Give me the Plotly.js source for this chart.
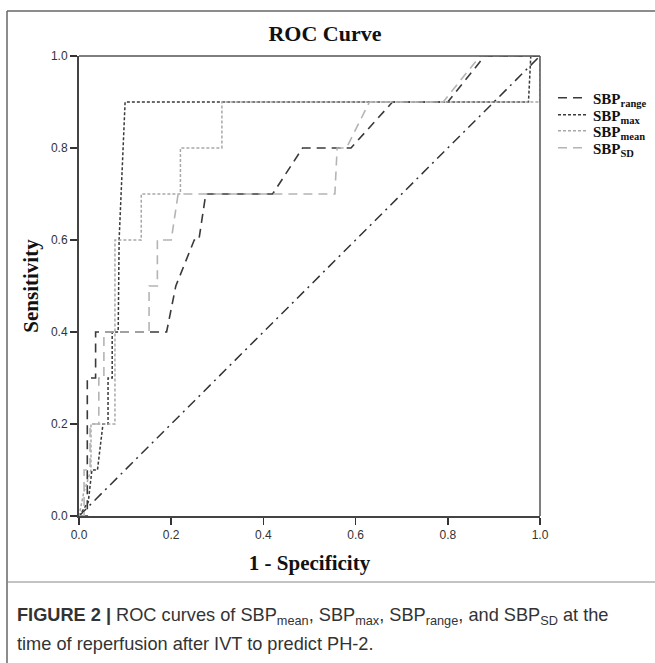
<!DOCTYPE html>
<html>
<head>
<meta charset="utf-8">
<script src="https://cdn.plot.ly/plotly-3.0.1.min.js"></script>
<style>html,body{margin:0;padding:0;background:#fff;}#chart{width:655px;height:663px;}</style>
</head>
<body>
<div id="chart"></div>
<script>
// ---- data ----
const seriesNames = ["SBP<sub>range</sub>", "SBP<sub>max</sub>", "SBP<sub>mean</sub>", "SBP<sub>SD</sub>"];

const rangeX = [0, 0.018, 0.018, 0.036, 0.036, 0.19, 0.21, 0.25, 0.26, 0.275, 0.42, 0.485, 0.59, 0.68, 0.80, 0.88, 0.98, 1.0];
const rangeY = [0, 0, 0.3, 0.3, 0.4, 0.4, 0.5, 0.6, 0.6, 0.7, 0.7, 0.8, 0.8, 0.9, 0.9, 1.0, 1.0, 1.0];

const maxX = [0, 0.02, 0.028, 0.04, 0.052, 0.063, 0.063, 0.072, 0.072, 0.085, 0.087, 0.1, 0.975, 0.98, 1.0];
const maxY = [0, 0.03, 0.1, 0.1, 0.2, 0.2, 0.3, 0.3, 0.4, 0.4, 0.6, 0.9, 0.9, 1.0, 1.0];

const meanX = [0, 0.01, 0.026, 0.026, 0.078, 0.078, 0.135, 0.135, 0.22, 0.22, 0.31, 0.31, 1.0, 1.0];
const meanY = [0, 0.05, 0.1, 0.2, 0.2, 0.6, 0.6, 0.7, 0.7, 0.8, 0.8, 0.9, 0.9, 1.0];

const sdX = [0, 0.011, 0.011, 0.024, 0.024, 0.043, 0.043, 0.054, 0.054, 0.152, 0.152, 0.17, 0.17, 0.2, 0.215, 0.555, 0.56, 0.58, 0.63, 0.79, 0.87, 1.0];
const sdY = [0, 0, 0.1, 0.1, 0.2, 0.2, 0.3, 0.3, 0.4, 0.4, 0.5, 0.5, 0.6, 0.6, 0.7, 0.7, 0.8, 0.8, 0.9, 0.9, 1.0, 1.0];

const refX = [0, 1];
const refY = [0, 1];

const tickVals = [0, 0.2, 0.4, 0.6, 0.8, 1.0];
const tickText = ["0.0", "0.2", "0.4", "0.6", "0.8", "1.0"];

// ---- layout geometry ----
const W = 655, H = 663, ML = 79, MR = 115, MT = 56, MB = 147;
const PW = W - ML - MR, PH = H - MT - MB;
const px2x = X => (X - ML) / PW;
const px2y = Y => (H - MB - Y) / PH;

const serif = "Liberation Serif, Times New Roman, serif";
const sans = "Liberation Sans, Arial, Helvetica, sans-serif";

const traces = [
  {x: refX, y: refY, mode: "lines", showlegend: false, hoverinfo: "skip",
   line: {color: "#333", width: 1.5, dash: "10px,5px,2px,5px"}},
  {x: rangeX, y: rangeY, name: seriesNames[0], mode: "lines", legend: "legend",
   line: {color: "#3a3a3a", width: 1.6, dash: "9px,6px"}},
  {x: maxX, y: maxY, name: seriesNames[1], mode: "lines", legend: "legend2",
   line: {color: "#3a3a3a", width: 1.5, dash: "3px,2px"}},
  {x: meanX, y: meanY, name: seriesNames[2], mode: "lines", legend: "legend3",
   line: {color: "#a8a8a8", width: 1.5, dash: "3px,2px"}},
  {x: sdX, y: sdY, name: seriesNames[3], mode: "lines", legend: "legend4",
   line: {color: "#b4b4b4", width: 1.6, dash: "9px,6px"}}
];

const axisCommon = {
  range: [0, 1], tickvals: tickVals, ticktext: tickText,
  ticks: "outside", ticklen: 7, tickwidth: 1.5, tickcolor: "#333",
  showline: true, linecolor: "#444", linewidth: 2, mirror: false,
  showgrid: false, zeroline: false, fixedrange: true,
  tickfont: {family: sans, size: 12, color: "#333"}
};

const shapes = [
  {type: "line", xref: "paper", yref: "paper", x0: 0, x1: 1, y0: 1, y1: 1, line: {color: "#555", width: 1.5}},
  {type: "line", xref: "paper", yref: "paper", x0: 1, x1: 1, y0: 0, y1: 1, line: {color: "#555", width: 1.5}},
  {type: "line", xref: "paper", yref: "paper", x0: px2x(7), x1: px2x(7), y0: px2y(11), y1: px2y(663), line: {color: "#666", width: 1.5}},
  {type: "line", xref: "paper", yref: "paper", x0: px2x(7), x1: px2x(655), y0: px2y(11), y1: px2y(11), line: {color: "#666", width: 1.5}},
  {type: "line", xref: "paper", yref: "paper", x0: px2x(7), x1: px2x(655), y0: px2y(582), y1: px2y(582), line: {color: "#888", width: 1}}
];

const annotations = [
  {xref: "paper", yref: "paper", x: px2x(15), y: px2y(616), xanchor: "left", yanchor: "middle", showarrow: false, align: "left",
   text: "<b>FIGURE 2 |</b> ROC curves of SBP<sub>mean</sub>, SBP<sub>max</sub>, SBP<sub>range</sub>, and SBP<sub>SD</sub> at the",
   font: {family: sans, size: 18.2, color: "#333"}},
  {xref: "paper", yref: "paper", x: px2x(15), y: px2y(644), xanchor: "left", yanchor: "middle", showarrow: false, align: "left",
   text: "time of reperfusion after IVT to predict PH-2.",
   font: {family: sans, size: 18.2, color: "#333"}}
];

const legendFont = {family: serif, size: 15, color: "#111", weight: "bold"};
const mkLegend = Y => ({x: px2x(553), y: px2y(Y), xanchor: "left", yanchor: "middle",
  bgcolor: "rgba(0,0,0,0)", borderwidth: 0, itemwidth: 30, font: legendFont});

const layout = {
  width: W, height: H,
  margin: {l: ML, r: MR, t: MT, b: MB, pad: 0, autoexpand: false},
  paper_bgcolor: "#fff", plot_bgcolor: "#fff",
  title: {text: "ROC Curve", x: 325 / W, xanchor: "center", y: 1 - 33 / H, yanchor: "middle",
          font: {family: serif, size: 22, color: "#111", weight: "bold"}},
  xaxis: Object.assign({}, axisCommon, {
    title: {text: "1 - Specificity", standoff: 14, font: {family: serif, size: 21, color: "#111", weight: "bold"}}
  }),
  yaxis: Object.assign({}, axisCommon, {
    title: {text: "Sensitivity", standoff: 7, font: {family: serif, size: 21, color: "#111", weight: "bold"}}
  }),
  legend: mkLegend(98),
  legend2: mkLegend(115),
  legend3: mkLegend(131),
  legend4: mkLegend(148),
  showlegend: true,
  shapes: shapes,
  annotations: annotations
};

Plotly.newPlot("chart", traces, layout, {displayModeBar: false, staticPlot: true});
</script>
</body>
</html>
